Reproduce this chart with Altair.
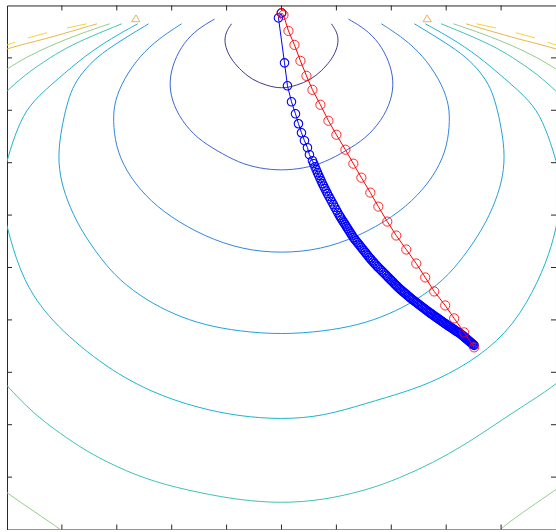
import altair as alt
import pandas as pd

# ---- axis tick positions (no labels drawn) ----
x_ticks = [-4, -3, -2, -1, 0, 1, 2, 3, 4]
y_ticks = [1, 2, 3, 4, 5, 6, 7, 8, 9]

# ---- contour levels and their colours (parula-like) ----
level_names = ["L1", "L2", "L3", "L4", "L5", "L6", "L7", "L8", "L9"]
level_colors = ["#3b3a8e", "#3d62d8", "#3085e0", "#22a0da", "#1cb4cf",
                "#3dc2b5", "#92cd8c", "#e9b44c", "#f4d535"]

# ---- contour polylines, (x, y) pairs ----
c1 = [(-0.91, 9.65), (-1.02, 9.48), (-1.04, 9.29), (-0.98, 9.10), (-0.89, 8.94),
      (-0.73, 8.75), (-0.53, 8.58), (-0.27, 8.47), (0.0, 8.41), (0.27, 8.47),
      (0.53, 8.58), (0.73, 8.75), (0.89, 8.94), (0.98, 9.10), (1.04, 9.29),
      (1.02, 9.48), (0.91, 9.65)]

c2 = [(-1.22, 9.74), (-1.53, 9.55), (-1.78, 9.29), (-1.96, 8.94), (-2.05, 8.56),
      (-2.0, 8.18), (-1.82, 7.80), (-1.53, 7.46), (-1.18, 7.23), (-0.78, 7.0),
      (-0.4, 6.89), (0.0, 6.85), (0.4, 6.89), (0.78, 7.0), (1.18, 7.23),
      (1.53, 7.46), (1.82, 7.80), (2.0, 8.18), (2.05, 8.56), (1.96, 8.94),
      (1.78, 9.29), (1.53, 9.55), (1.22, 9.74)]

c3 = [(-1.82, 9.65), (-2.22, 9.38), (-2.58, 9.04), (-2.87, 8.60), (-3.04, 8.18),
      (-3.07, 7.80), (-3.02, 7.32), (-2.84, 6.85), (-2.49, 6.37), (-2.04, 5.97),
      (-1.40, 5.59), (-0.71, 5.34), (0.0, 5.27), (0.71, 5.34), (1.40, 5.59),
      (2.04, 5.97), (2.49, 6.37), (2.84, 6.85), (3.02, 7.32), (3.07, 7.80),
      (3.04, 8.18), (2.87, 8.60), (2.58, 9.04), (2.22, 9.38), (1.82, 9.65)]

c4 = [(-2.42, 9.65), (-2.85, 9.38), (-3.29, 9.08), (-3.56, 8.81), (-3.78, 8.50),
      (-3.89, 8.18), (-3.98, 7.80), (-4.07, 7.23), (-4.04, 6.75), (-3.91, 6.28),
      (-3.67, 5.74), (-3.31, 5.19), (-2.95, 4.75), (-2.45, 4.37), (-1.95, 4.10),
      (-1.40, 3.90), (-0.76, 3.78), (0.0, 3.72), (0.76, 3.78), (1.40, 3.90),
      (1.95, 4.10), (2.45, 4.37), (2.95, 4.75), (3.31, 5.19), (3.67, 5.74),
      (3.91, 6.28), (4.04, 6.75), (4.07, 7.23), (3.98, 7.80), (3.89, 8.18),
      (3.78, 8.50), (3.56, 8.81), (3.29, 9.08), (2.85, 9.38), (2.42, 9.65)]

c5 = [(-2.62, 9.65), (-3.09, 9.38), (-3.58, 9.04), (-4.07, 8.60), (-4.53, 8.18),
      (-4.76, 7.80), (-4.95, 7.23), (-5.07, 6.75), (-5.11, 6.43), (-5.07, 6.09),
      (-4.96, 5.61), (-4.71, 4.75), (-4.22, 3.99), (-3.31, 3.17), (-2.40, 2.62),
      (-1.49, 2.31), (-0.76, 2.16), (0.0, 2.10), (0.76, 2.16), (1.55, 2.41),
      (2.24, 2.62), (2.84, 2.85), (3.60, 3.29), (4.24, 3.90), (4.69, 4.75),
      (4.93, 5.42), (5.05, 5.99), (5.09, 6.43), (5.05, 6.85), (4.95, 7.23),
      (4.76, 7.80), (4.53, 8.18), (4.07, 8.60), (3.58, 9.04), (3.09, 9.38),
      (2.62, 9.65)]

c6_top_left = [(-2.91, 9.65), (-3.45, 9.42), (-3.93, 9.19), (-4.31, 8.94),
               (-4.67, 8.68), (-5.0, 8.37), (-5.27, 8.09)]
c6_top_right = [(2.91, 9.65), (3.45, 9.42), (3.93, 9.19), (4.31, 8.94),
                (4.67, 8.68), (5.0, 8.37), (5.27, 8.09)]
c6_bottom = [(-5.27, 3.04), (-5.0, 2.75), (-4.76, 2.47), (-4.40, 2.12), (-4.04, 1.84),
             (-3.58, 1.51), (-3.0, 1.19), (-2.31, 0.90), (-1.49, 0.70), (-0.76, 0.56),
             (0.0, 0.50), (0.76, 0.56), (1.55, 0.75), (2.15, 0.98), (2.75, 1.27),
             (3.33, 1.61), (3.87, 1.99), (4.42, 2.37), (4.93, 2.71), (5.24, 3.0)]

c7_top_left = [(-3.13, 9.65), (-3.67, 9.46), (-4.22, 9.23), (-4.67, 9.0),
               (-5.0, 8.79), (-5.31, 8.56)]
c7_top_right = [(3.13, 9.65), (3.67, 9.46), (4.22, 9.23), (4.67, 9.0),
                (5.0, 8.79), (5.31, 8.56)]
c7_bottom_left = [(-5.31, 0.94), (-5.0, 0.70), (-4.49, 0.33), (-4.0, -0.01), (-3.67, -0.30)]
c7_bottom_right = [(3.67, -0.30), (4.02, 0.05), (4.51, 0.41), (4.98, 0.75), (5.31, 0.98)]

c8_left = [(-3.36, 9.65), (-3.85, 9.50), (-4.31, 9.36), (-4.67, 9.27), (-5.0, 9.17), (-5.31, 9.08)]
c8_right = [(3.36, 9.65), (3.85, 9.50), (4.31, 9.36), (4.67, 9.27), (5.0, 9.17), (5.31, 9.08)]

c9_pieces = [
    [(-5.04, 9.23), (-4.85, 9.30)],
    [(-4.62, 9.38), (-4.27, 9.48)],
    [(-3.91, 9.57), (-3.55, 9.65)],
    [(5.04, 9.23), (4.85, 9.30)],
    [(4.62, 9.38), (4.27, 9.48)],
    [(3.91, 9.57), (3.55, 9.65)],
]

# small closed pieces at the top edge of the grid
tri_left = [(-2.73, 9.69), (-2.65, 9.82), (-2.58, 9.69), (-2.73, 9.69)]
tri_right = [(2.58, 9.69), (2.65, 9.82), (2.73, 9.69), (2.58, 9.69)]

# ---- optimisation paths ----
red_path = [(0.0, 9.857), (0.036, 9.819), (0.127, 9.514), (0.236, 9.248), (0.345, 8.943),
            (0.455, 8.657), (0.564, 8.390), (0.709, 8.105), (0.855, 7.800), (1.0, 7.533),
            (1.164, 7.248), (1.309, 6.981), (1.455, 6.714), (1.618, 6.429), (1.764, 6.162),
            (1.927, 5.876), (2.091, 5.610), (2.273, 5.343), (2.455, 5.076), (2.618, 4.810),
            (2.782, 4.543), (2.982, 4.276), (3.145, 4.029), (3.327, 3.762), (3.509, 3.476)]

blue_path = [
    # early, widely spaced iterates
    (0.0, 9.857), (-0.055, 9.762), (0.055, 8.905), (0.109, 8.467), (0.182, 8.162),
    (0.255, 7.933), (0.309, 7.743), (0.364, 7.571), (0.418, 7.419), (0.473, 7.286),
    (0.509, 7.152),
    # slow tail, iterates crowding together
    (0.564, 7.038), (0.587, 6.981), (0.610, 6.924), (0.632, 6.867),
    (0.655, 6.810), (0.677, 6.758), (0.700, 6.705), (0.722, 6.653),
    (0.745, 6.600), (0.768, 6.553), (0.790, 6.505), (0.813, 6.458),
    (0.836, 6.410), (0.863, 6.358), (0.890, 6.305), (0.918, 6.253),
    (0.945, 6.200), (0.972, 6.148), (1.000, 6.095), (1.027, 6.043),
    (1.055, 5.990), (1.076, 5.955), (1.097, 5.920), (1.118, 5.886), (1.140, 5.851), (1.161, 5.816),
    (1.182, 5.781), (1.203, 5.746), (1.224, 5.711), (1.246, 5.676), (1.267, 5.641), (1.288, 5.606),
    (1.309, 5.571), (1.333, 5.539), (1.358, 5.508), (1.382, 5.476), (1.406, 5.444), (1.431, 5.413),
    (1.455, 5.381), (1.479, 5.349), (1.503, 5.317), (1.528, 5.286), (1.552, 5.254), (1.576, 5.222),
    (1.600, 5.190), (1.624, 5.162), (1.648, 5.133), (1.673, 5.105), (1.697, 5.076), (1.721, 5.048),
    (1.745, 5.019), (1.772, 4.991), (1.800, 4.962), (1.827, 4.934), (1.854, 4.905), (1.882, 4.877),
    (1.909, 4.848), (1.933, 4.823), (1.956, 4.798), (1.980, 4.774), (2.003, 4.749),
    (2.027, 4.724), (2.051, 4.699), (2.074, 4.674), (2.098, 4.650), (2.121, 4.625),
    (2.145, 4.600), (2.169, 4.579), (2.192, 4.558), (2.216, 4.537), (2.240, 4.516),
    (2.264, 4.495), (2.287, 4.474), (2.311, 4.453), (2.335, 4.432), (2.358, 4.411),
    (2.382, 4.390), (2.406, 4.371), (2.430, 4.352), (2.453, 4.333), (2.477, 4.314),
    (2.501, 4.295), (2.525, 4.276), (2.548, 4.257), (2.572, 4.238), (2.596, 4.219),
    (2.620, 4.200), (2.644, 4.181), (2.667, 4.162),
    (2.691, 4.143), (2.713, 4.127), (2.735, 4.110), (2.757, 4.094), (2.779, 4.078),
    (2.801, 4.061), (2.824, 4.045), (2.846, 4.029), (2.868, 4.012), (2.890, 3.996),
    (2.912, 3.980), (2.934, 3.963), (2.956, 3.947), (2.978, 3.930),
    (3.000, 3.914), (3.020, 3.900), (3.039, 3.887), (3.059, 3.873), (3.078, 3.860),
    (3.098, 3.846), (3.117, 3.833), (3.137, 3.819), (3.156, 3.805), (3.176, 3.792),
    (3.195, 3.778), (3.215, 3.765), (3.234, 3.751), (3.254, 3.738),
    (3.273, 3.724), (3.288, 3.711), (3.302, 3.698), (3.317, 3.685), (3.332, 3.672),
    (3.347, 3.658), (3.361, 3.645), (3.376, 3.632), (3.391, 3.619), (3.406, 3.606),
    (3.420, 3.593), (3.435, 3.580), (3.450, 3.567), (3.465, 3.553), (3.479, 3.540),
    (3.494, 3.527), (3.509, 3.514)]

# ---- assemble tables ----
pieces = [("L1", c1), ("L2", c2), ("L3", c3), ("L4", c4), ("L5", c5),
          ("L6", c6_top_left), ("L6", c6_top_right), ("L6", c6_bottom),
          ("L7", c7_top_left), ("L7", c7_top_right), ("L7", c7_bottom_left), ("L7", c7_bottom_right),
          ("L8", c8_left), ("L8", c8_right)]
pieces += [("L9", p) for p in c9_pieces]

rows = []
for pid, (lvl, pts) in enumerate(pieces):
    for i, (xv, yv) in enumerate(pts):
        rows.append({"x": xv, "y": yv, "level": lvl, "piece": pid, "i": i})
contour_df = pd.DataFrame(rows)

tri_rows = []
for pid, pts in enumerate([tri_left, tri_right]):
    for i, (xv, yv) in enumerate(pts):
        tri_rows.append({"x": xv, "y": yv, "piece": pid, "i": i})
tri_df = pd.DataFrame(tri_rows)


def path_frame(pts):
    return pd.DataFrame({"x": [p[0] for p in pts], "y": [p[1] for p in pts],
                         "i": list(range(len(pts)))})


red_df = path_frame(red_path)
blue_df = path_frame(blue_path)

W, H = 550, 525
xs = alt.Scale(domain=[-5, 5], nice=False, zero=False)
ys = alt.Scale(domain=[0, 10], nice=False, zero=False)
X = alt.X("x:Q", scale=xs, axis=None)
Y = alt.Y("y:Q", scale=ys, axis=None)

contours = alt.Chart(contour_df).mark_line(
    interpolate="basis", strokeWidth=1, clip=True
).encode(
    x=X, y=Y,
    color=alt.Color("level:N", scale=alt.Scale(domain=level_names, range=level_colors), legend=None),
    detail="piece:N",
    order="i:Q",
)

triangles = alt.Chart(tri_df).mark_line(color="#e3b35a", strokeWidth=1, clip=True).encode(
    x=X, y=Y, detail="piece:N", order="i:Q"
)

blue_line = alt.Chart(blue_df).mark_line(color="#0000ff", strokeWidth=1, clip=True).encode(
    x=X, y=Y, order="i:Q")
blue_pts = alt.Chart(blue_df).mark_point(
    shape="circle", filled=False, color="#0000ff", size=72, strokeWidth=1.1, opacity=1, clip=True
).encode(x=X, y=Y)

red_line = alt.Chart(red_df).mark_line(color="#ff0000", strokeWidth=1, clip=True).encode(
    x=X, y=Y, order="i:Q")
red_pts = alt.Chart(red_df).mark_point(
    shape="circle", filled=False, color="#ff0000", size=85, strokeWidth=1, opacity=0.85, clip=True
).encode(x=X, y=Y)

# inward-pointing tick marks on all four sides
xt = pd.DataFrame({"t": x_ticks})
yt = pd.DataFrame({"t": y_ticks})
TICK = 5
tick_color = "#262626"
ticks_bottom = alt.Chart(xt).mark_rule(color=tick_color, strokeWidth=1).encode(
    x=alt.X("t:Q", scale=xs, axis=None), y=alt.value(H), y2=alt.value(H - TICK))
ticks_top = alt.Chart(xt).mark_rule(color=tick_color, strokeWidth=1).encode(
    x=alt.X("t:Q", scale=xs, axis=None), y=alt.value(0), y2=alt.value(TICK))
ticks_left = alt.Chart(yt).mark_rule(color=tick_color, strokeWidth=1).encode(
    y=alt.Y("t:Q", scale=ys, axis=None), x=alt.value(0), x2=alt.value(TICK))
ticks_right = alt.Chart(yt).mark_rule(color=tick_color, strokeWidth=1).encode(
    y=alt.Y("t:Q", scale=ys, axis=None), x=alt.value(W), x2=alt.value(W - TICK))

chart = alt.layer(
    contours, triangles, blue_line, blue_pts, red_line, red_pts,
    ticks_bottom, ticks_top, ticks_left, ticks_right
).properties(
    width=W, height=H,
    padding={"left": 7, "top": 5, "right": 0, "bottom": 0},
    autosize=alt.AutoSizeParams(type="none"),
    background="white",
).configure_view(stroke="#262626", strokeWidth=1)

chart.save("out.html", embed_options={"renderer": "svg", "actions": False})
